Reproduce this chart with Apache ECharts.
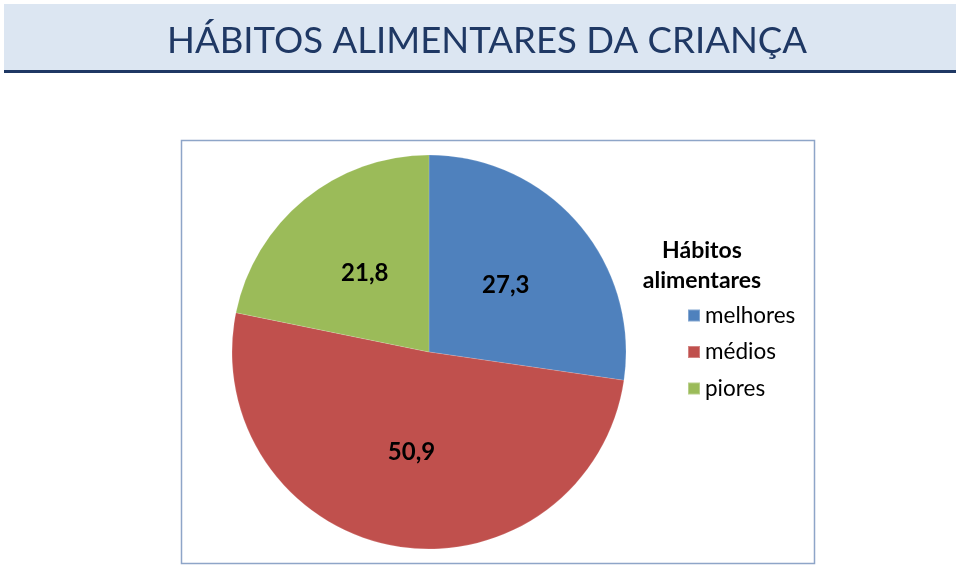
<!DOCTYPE html>
<html>
<head>
<meta charset="utf-8">
<script src="https://cdn.jsdelivr.net/npm/echarts@6/dist/echarts.min.js"></script>
<style>
html,body{margin:0;padding:0;background:#fff;}
#chart{width:960px;height:569px;}
</style>
</head>
<body>
<div id="chart"></div>
<script>
const pageTitle = 'HÁBITOS ALIMENTARES DA CRIANÇA';
const legendTitle = 'Hábitos\nalimentares';
const categories = ['melhores', 'médios', 'piores'];
const values = [27.3, 50.9, 21.8];
const colors = ['#4f81bd', '#c0504d', '#9bbb59'];

const fontFam = 'Lato, "Open Sans", sans-serif';
const chart = echarts.init(document.getElementById('chart'), null, {renderer: 'canvas'});
chart.setOption({
  animation: false,
  backgroundColor: '#fff',
  graphic: [
    {type: 'rect', shape: {x: 4, y: 4, width: 952, height: 66}, style: {fill: '#dce6f2'}, z: 0},
    {type: 'rect', shape: {x: 4, y: 70, width: 952, height: 3}, style: {fill: '#1f3864'}, z: 0},
    {type: 'rect', shape: {x: 181.5, y: 140.5, width: 633, height: 423}, style: {fill: 'none', stroke: '#8ea5c8', lineWidth: 1.5}, z: 0}
  ],
  title: [
    {text: pageTitle, left: 482, top: 18, textAlign: 'center',
     textStyle: {fontFamily: fontFam, fontWeight: 'normal', fontSize: 36.6, color: '#1f3864'}},
    {text: legendTitle, left: 697, top: 231, textAlign: 'center',
     textStyle: {fontFamily: fontFam, fontWeight: 'bold', fontSize: 23, lineHeight: 30, color: '#000'}}
  ],
  legend: {
    orient: 'vertical', left: 687, top: 304, padding: 0, itemWidth: 12, itemHeight: 12, itemGap: 13.5,
    icon: 'rect',
    textStyle: {fontFamily: fontFam, fontSize: 22.5, color: '#000'},
    data: categories
  },
  series: [{
    type: 'pie',
    center: [429, 352],
    radius: [0, 197],
    startAngle: 90,
    clockwise: true,
    color: colors,
    itemStyle: {borderColor: 'rgba(255,255,255,0.3)', borderWidth: 0.5},
    label: {
      position: 'inner',
      formatter: p => String(p.value).replace('.', ','),
      fontFamily: fontFam, fontWeight: 'bold', fontSize: 24, color: '#000'
    },
    labelLine: {show: false},
    emphasis: {disabled: true},
    data: categories.map((c, i) => ({name: c, value: values[i]}))
  }]
});
</script>
</body>
</html>
